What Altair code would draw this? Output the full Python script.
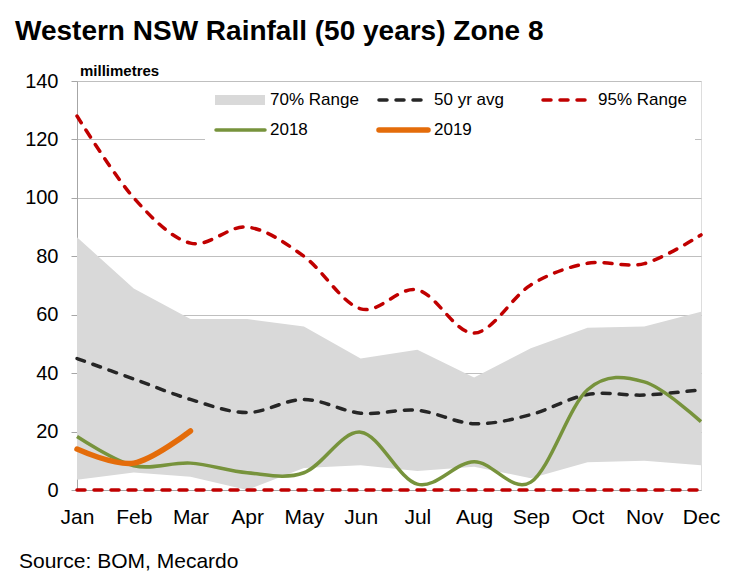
import altair as alt
import pandas as pd

months = ["Jan", "Feb", "Mar", "Apr", "May", "Jun", "Jul", "Aug", "Sep", "Oct", "Nov", "Dec"]
range70_low = [3.5, 6, 4.5, 0, 7.5, 8.5, 6.5, 8, 4, 9.5, 10, 8.5]
range70_high = [86.5, 69, 58.5, 58.5, 56, 45, 48, 38.5, 48.5, 55.5, 56, 61]
avg50 = [45, 38, 31, 26.5, 31, 26.3, 27.3, 22.7, 25.8, 32.7, 32.5, 34.3]
range95_high = [128, 100, 84.5, 90, 80, 62, 68.5, 53.7, 70.2, 77.6, 77.5, 87.3]
range95_low = [0, 0, 0, 0, 0, 0, 0, 0, 0, 0, 0, 0]
rain2018 = [18.3, 8.3, 9.2, 5.9, 5.9, 19.8, 2, 9.7, 2.7, 34.3, 37, 23.4]
months2019 = ["Jan", "Feb", "Mar"]
rain2019 = [14, 9.2, 20.2]

title_text = "Western NSW Rainfall (50 years) Zone 8"
unit_text = "millimetres"
source_text = "Source: BOM, Mecardo"
legend_labels = ["70% Range", "50 yr avg", "95% Range", "2018", "2019"]

df = pd.DataFrame({
    "month": months,
    "low70": range70_low,
    "high70": range70_high,
    "avg": avg50,
    "high95": range95_high,
    "low95": range95_low,
    "r2018": rain2018,
})
df19 = pd.DataFrame({"month": months2019, "r2019": rain2019})

W, H = 624, 409
FONT = "Liberation Sans"
GREY = "#D9D9D9"
BLACK = "#262626"
RED = "#C00000"
GREEN = "#77933C"
ORANGE = "#E46C0A"

x_enc = alt.X(
    "month:O",
    sort=months,
    scale=alt.Scale(domain=months, type="point", padding=0),
    axis=alt.Axis(
        title=None, labelAngle=0, labelFontSize=21, labelColor="black",
        labelFont=FONT, labelPadding=16, ticks=False, domainColor="#A6A6A6",
        grid=False,
    ),
)
y_scale = alt.Scale(domain=[0, 140], nice=False)
y_axis = alt.Axis(
    title=None, values=list(range(0, 141, 20)), labelFontSize=20,
    labelColor="black", labelFont=FONT, labelPadding=13, tickSize=6,
    tickColor="#A6A6A6", domainColor="#A6A6A6", gridColor="#BFBFBF",
    gridWidth=1,
)

base = alt.Chart(df)

area = base.mark_area(color=GREY).encode(
    x=x_enc,
    y=alt.Y("low70:Q", scale=y_scale, axis=y_axis),
    y2="high70:Q",
)

dash = dict(strokeWidth=3.5, strokeDash=[8, 9], strokeCap="round",
            interpolate="cardinal")

avg_line = base.mark_line(color=BLACK, **dash).encode(
    x=x_enc, y=alt.Y("avg:Q", scale=y_scale))
hi95_line = base.mark_line(color=RED, **dash).encode(
    x=x_enc, y=alt.Y("high95:Q", scale=y_scale))
lo95_line = base.mark_line(color=RED, strokeWidth=3.5, strokeDash=[8, 9],
                           strokeCap="round").encode(
    x=x_enc, y=alt.Y("low95:Q", scale=y_scale))
line18 = base.mark_line(color=GREEN, strokeWidth=3.5,
                        interpolate="cardinal").encode(
    x=x_enc, y=alt.Y("r2018:Q", scale=y_scale))
line19 = alt.Chart(df19).mark_line(color=ORANGE, strokeWidth=5.5,
                                   strokeCap="round",
                                   interpolate="cardinal").encode(
    x=x_enc, y=alt.Y("r2019:Q", scale=y_scale))

one = alt.Data(values=[{}])


def seg(x1, x2, y, **kw):
    return alt.Chart(one).mark_rule(**kw).encode(
        x=alt.value(x1), x2=alt.value(x2), y=alt.value(y))


def txt(x, y, text, size=17, weight="normal", font=FONT):
    return alt.Chart(one).mark_text(
        text=text, align="left", baseline="middle", fontSize=size,
        fontWeight=weight, font=font, color="black").encode(
        x=alt.value(x), y=alt.value(y))


def txt_base(x, y, text, size, weight="normal", font=FONT):
    return alt.Chart(one).mark_text(
        text=text, align="left", baseline="alphabetic", fontSize=size,
        fontWeight=weight, font=font, color="black").encode(
        x=alt.value(x), y=alt.value(y))


legend_bg = alt.Chart(one).mark_rect(color="white").encode(
    x=alt.value(128), x2=alt.value(618), y=alt.value(3), y2=alt.value(64))
leg_area = alt.Chart(one).mark_rect(color=GREY).encode(
    x=alt.value(138), x2=alt.value(188), y=alt.value(14), y2=alt.value(24))

legend = [
    legend_bg,
    leg_area,
    txt(193, 19, legend_labels[0]),
    seg(302, 346, 19, color=BLACK, strokeWidth=3.5, strokeDash=[8, 9], strokeCap="round"),
    txt(357, 19, legend_labels[1]),
    seg(466, 509, 19, color=RED, strokeWidth=3.5, strokeDash=[8, 9], strokeCap="round"),
    txt(521, 19, legend_labels[2]),
    seg(139, 188, 49, color=GREEN, strokeWidth=3.5, strokeCap="round"),
    txt(193, 49, legend_labels[3]),
    seg(302, 351, 49, color=ORANGE, strokeWidth=5.5, strokeCap="round"),
    txt(357, 49, legend_labels[4]),
]

texts = [
    txt_base(-62, -41, title_text, 28, "bold",
             "Liberation Sans Narrow, Arial Narrow, Liberation Sans"),
    txt_base(3, -5, unit_text, 15, "bold"),
    txt_base(-58, 487, source_text, 21),
]

chart = alt.layer(
    area, *legend, avg_line, hi95_line, lo95_line, line18, line19, *texts
).properties(
    width=W, height=H,
    autosize=alt.AutoSizeParams(type="none"),
    padding={"left": 69, "top": 73, "right": 21, "bottom": 83},
).configure_view(
    stroke="#BFBFBF", strokeWidth=1
).configure(background="white")

chart.save("out.html", embed_options={"renderer": "svg", "actions": False})
